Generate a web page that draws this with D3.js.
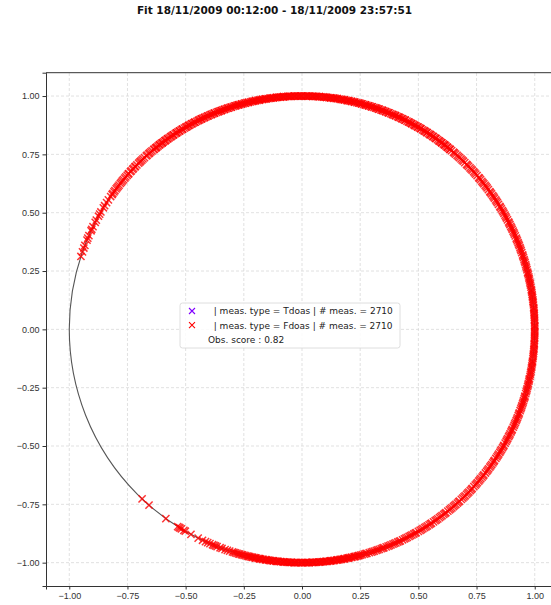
<!DOCTYPE html>
<html>
<head>
<meta charset="utf-8">
<script src="https://cdn.jsdelivr.net/npm/d3@7"></script>
<style>
	body { margin: 0; background: #fff; }
	svg { display: block; font-family: 'DejaVu Sans', sans-serif; }
	.grid line { stroke: #d9d9d9; stroke-dasharray: 3,2; stroke-width: 0.8; }
	.axis path, .axis line { stroke: #333; }
	.axis text { fill: #333; font-size: 9px; }
</style>
</head>
<body>
<script>
// data
var title = 'Fit 18/11/2009 00:12:00 - 18/11/2009 23:57:51';
var x_ticks = [-1.00, -0.75, -0.50, -0.25, 0.00, 0.25, 0.50, 0.75, 1.00];
var y_ticks = [-1.00, -0.75, -0.50, -0.25, 0.00, 0.25, 0.50, 0.75, 1.00];
var fit_radius = 1.0;
var legend_labels = [
	'  | meas. type = Tdoas | # meas. = 2710',
	'  | meas. type = Fdoas | # meas. = 2710',
	'Obs. score : 0.82'
];
var legend_colors = ['#8000ff', '#ff0000', null];

// angles (degrees) of the Fdoas measurements on the fitted circle
var meas_angles = [
	161.8, 160.6, 159.6, 158.9, 157.5, 157.0, 156.3, 155.0, 154.6, 153.9, 152.7, 152.1, 151.0, 150.4, 149.8, 148.6, 148.0, 147.1,
	146.3, 144.7, 143.9, 143.0, 142.2, 141.3, 140.5,
	139.6, 138.7, 138.1, 137.2, 136.4, 135.7, 134.6, 133.9, 133.1, 132.0, 131.2, 130.5, 129.4, 128.8, 127.7, 126.9, 126.0, 125.3,
	124.2, 123.5, 122.6, 121.7, 120.9, 119.8, 119.1, 118.2, 117.4, 116.3, 115.6, 114.7, 113.8, 112.9, 112.1, 111.0, 110.3, 109.4,
	108.5, 107.7, 106.6, 105.9, 105.0, 104.1, 103.3, 102.2, 101.5, 100.6, 99.7, 98.9, 97.8, 97.1, 96.2, 95.3, 94.5, 93.4, 92.7,
	91.8, 90.9, 90.1, 89.0, 88.3, 87.4, 86.5, 85.7, 84.6, 83.9, 83.0, 82.1, 81.3, 80.2, 79.5, 78.6, 77.7, 76.9, 75.8, 75.1, 74.2,
	73.3, 72.5, 71.4, 70.7, 69.8, 68.9, 68.1, 67.0, 66.3, 65.4, 64.5, 63.7, 62.6, 61.9, 61.0, 60.1, 59.3, 58.2, 57.5, 56.6, 55.7,
	54.9, 53.8, 53.1, 52.2, 51.3, 50.5, 49.4, 48.7, 47.8, 46.9, 46.1, 45.0, 44.3, 43.4, 42.5, 41.7, 40.6, 39.9, 39.0, 38.1, 37.3,
	36.2, 35.5, 34.6, 33.7, 32.9, 31.8, 31.1, 30.2, 29.3, 28.5, 27.4, 26.7, 25.8, 24.9, 24.1, 23.0, 22.3, 21.4, 20.5, 19.7, 18.6,
	17.9, 17.0, 16.1, 15.3, 14.2, 13.5, 12.6, 11.7, 10.9, 9.8, 9.1, 8.2, 7.3, 6.5, 5.4, 4.7, 3.8, 2.9, 2.1, 1.0, 0.3,
	-0.6, -1.5, -2.3, -3.4, -4.1, -5.0, -5.9, -6.7, -7.8, -8.5, -9.4, -10.3, -11.1, -12.2, -12.9, -13.8, -14.7, -15.5, -16.6,
	-17.3, -18.2, -19.1, -19.9, -21.0, -21.7, -22.6, -23.5, -24.3, -25.4, -26.1, -27.0, -27.9, -28.7, -29.8, -30.5, -31.4, -32.3,
	-33.1, -34.2, -34.9, -35.8, -36.7, -37.5, -38.6, -39.3, -40.2, -41.1, -41.9, -43.0, -43.7, -44.6, -45.5, -46.3, -47.4, -48.1,
	-49.0, -49.9, -50.7, -51.8, -52.5, -53.4, -54.3, -55.1, -56.2, -56.9, -57.8, -58.7, -59.5, -60.6, -61.3, -62.2, -63.1, -63.9,
	-65.0, -65.7, -66.6, -67.5, -68.3, -69.4, -70.1, -71.0, -71.9, -72.7, -73.8, -74.5, -75.4, -76.3, -77.1, -78.2, -78.9, -79.8,
	-80.7, -81.5, -82.6, -83.3, -84.2, -85.1, -85.9, -87.0, -87.7, -88.6, -89.5, -90.3, -91.4, -92.1, -93.0, -93.9, -94.7, -95.8,
	-96.5, -97.4, -98.3, -99.1, -100.2, -100.9, -101.8, -102.7, -103.6, -104.8, -105.5, -106.6, -107.4, -108.7,
	-110.1, -111.4, -112.2, -113.9, -115.3, -116.5, -118.5, -120.1, -120.5, -121.2, -121.6, -121.9, -122.3, -125.8, -131.1, -133.4
];
// second pass where the band is solid
var meas_angles_dense = [
	130.1, 129.0, 128.2, 127.3, 126.5, 125.7, 124.8, 123.9, 123.0, 122.2, 121.3, 120.4, 119.5, 118.7, 117.8, 116.9, 116.0, 115.2,
	114.3, 113.4, 112.5, 111.6, 110.7, 109.9, 109.0, 108.1, 107.2, 106.3, 105.5, 104.6, 103.7, 102.8, 101.9, 101.0, 100.2, 99.3,
	98.4, 97.5, 96.6, 95.8, 94.9, 94.0, 93.1, 92.2, 91.4, 90.5, 89.6, 88.7, 87.8, 87.0, 86.1, 85.2, 84.3, 83.4, 82.6, 81.7, 80.8,
	79.9, 79.0, 78.2, 77.3, 76.4, 75.5, 74.6, 73.8, 72.9, 72.0, 71.1, 70.2, 69.4, 68.5, 67.6, 66.7, 65.8, 65.0, 64.1, 63.2, 62.3,
	61.4, 60.6, 59.7, 58.8, 57.9, 57.0, 56.2, 55.3, 54.4, 53.5, 52.6, 51.8, 50.9, 50.0, 49.1, 48.2, 47.4, 46.5, 45.6, 44.7, 43.8,
	43.0, 42.1, 41.2, 40.3, 39.4, 38.6, 37.7, 36.8, 35.9, 35.0, 34.2, 33.3, 32.4, 31.5, 30.6, 29.8, 28.9, 28.0, 27.1, 26.2, 25.4,
	24.5, 23.6, 22.7, 21.8, 21.0, 20.1, 19.2, 18.3, 17.4, 16.6, 15.7, 14.8, 13.9, 13.0, 12.2, 11.3, 10.4, 9.5, 8.6, 7.8, 6.9, 6.0,
	5.1, 4.2, 3.4, 2.5, 1.6, 0.7, -0.2, -1.0, -1.9, -2.8, -3.7, -4.6, -5.4, -6.3, -7.2, -8.1, -9.0, -9.8, -10.7, -11.6, -12.5,
	-13.4, -14.2, -15.1, -16.0, -16.9, -17.8, -18.6, -19.5, -20.4, -21.3, -22.2, -23.0, -23.9, -24.8, -25.7, -26.6, -27.4, -28.3,
	-29.2, -30.1, -31.0, -31.8, -32.7, -33.6, -34.5, -35.4, -36.2, -37.1, -38.0, -38.9, -39.8, -40.6, -41.5, -42.4, -43.3, -44.2,
	-45.0, -45.9, -46.8, -47.7, -48.6, -49.4, -50.3, -51.2, -52.1, -53.0, -53.8, -54.7, -55.6, -56.5, -57.4, -58.2, -59.1, -60.0,
	-60.9, -61.8, -62.6, -63.5, -64.4, -65.3, -66.2, -67.0, -67.9, -68.8, -69.7, -70.6, -71.4, -72.3, -73.2, -74.1, -75.0, -75.8,
	-76.7, -77.6, -78.5, -79.4, -80.2, -81.1, -82.0, -82.9, -83.8, -84.6, -85.5, -86.4, -87.3, -88.2, -89.0, -89.9, -90.8, -91.7,
	-92.6, -93.4, -94.3, -95.2, -96.1, -97.0, -97.8, -98.7, -99.6, -100.5, -101.4, -102.2, -103.1, -104.0, -105.1
];
// third pass: top arc and lower arc, which are filled in the picture
var meas_angles_top = [
	145.3, 144.4, 143.5, 142.6, 141.8, 140.9, 140.1, 139.2, 138.3, 137.5, 136.7, 135.9, 135.2, 134.2, 133.5, 132.6, 131.7, 130.9,
	129.6, 128.6, 127.8, 126.9, 126.1, 125.2, 124.4, 123.5, 122.6, 121.8, 120.9, 120.0, 119.1, 118.3, 117.4, 116.5, 115.6, 114.8,
	113.9, 113.0, 112.1, 111.2, 110.3, 109.5, 108.6, 107.7, 106.8, 105.9, 105.1, 104.2, 103.3, 102.4, 101.5, 100.6, 99.8, 98.9,
	98.0, 97.1, 96.2, 95.4, 94.5, 93.6, 92.7, 91.8, 91.0, 90.1, 89.2, 88.3, 87.4, 86.6, 85.7, 84.8, 83.9, 83.0, 82.2, 81.3, 80.4,
	79.5, 78.6, 77.8, 76.9, 76.0, 75.1, 74.2, 73.4, 72.5, 71.6, 70.7, 69.8, 69.0, 68.1, 67.2, 66.3, 65.4, 64.6, 63.7, 62.8, 61.9,
	61.0, 60.2, 59.3, 58.4, 57.5, 56.6, 55.8, 54.9, 54.0, 53.1, 52.2, 51.4, 50.5,
	-76.0, -76.9, -77.8, -78.6, -79.5, -80.4, -81.3, -82.2, -83.0, -83.9, -84.8, -85.7, -86.6, -87.4, -88.3, -89.2, -90.1, -91.0,
	-91.8, -92.7, -93.6, -94.5, -95.4, -96.2, -97.1, -98.0, -98.9, -99.8, -100.6, -101.5, -102.4, -103.3, -104.4, -105.8, -106.2,
	-107.0, -108.1, -109.3, -110.6, -111.8, -112.6, -113.3, -114.5
];

// chart
var width = 551;
var height = 605;
var margin = { top: 72.7, right: -7, bottom: 19, left: 46 };

var svg = d3.select('body')
	.append('svg')
	.attr('width', width)
	.attr('height', height);

var x = d3.scaleLinear().domain([-1.1, 1.1]).range([margin.left, width - margin.right]);
var y = d3.scaleLinear().domain([-1.1, 1.1]).range([height - margin.bottom, margin.top]);

svg.append('text')
	.attr('x', 274.5)
	.attr('y', 14)
	.attr('text-anchor', 'middle')
	.style('font-size', '10.5px')
	.style('font-weight', 'bold')
	.style('fill', '#111')
	.text(title);

// grid
var grid = svg.append('g').attr('class', 'grid');
grid.selectAll('.gx')
	.data(x_ticks)
	.enter()
	.append('line')
	.attr('x1', function (d) { return x(d); })
	.attr('x2', function (d) { return x(d); })
	.attr('y1', y(-1.1))
	.attr('y2', y(1.1));
grid.selectAll('.gy')
	.data(y_ticks)
	.enter()
	.append('line')
	.attr('y1', function (d) { return y(d); })
	.attr('y2', function (d) { return y(d); })
	.attr('x1', x(-1.1))
	.attr('x2', x(1.1));

// fitted circle
svg.append('ellipse')
	.attr('cx', x(0))
	.attr('cy', y(0))
	.attr('rx', x(fit_radius) - x(0))
	.attr('ry', y(0) - y(fit_radius))
	.attr('fill', 'none')
	.attr('stroke', '#555')
	.attr('stroke-width', 1.1);

// measurements
var ms = 3.6;
function cross (sel, size) {
	return sel.attr('d', 'M' + (-size) + ',' + (-size) + 'L' + size + ',' + size +
		'M' + (-size) + ',' + size + 'L' + size + ',' + (-size));
}
var all_angles = meas_angles.concat(meas_angles_dense, meas_angles_top);
var marks = svg.append('g');
cross(marks.selectAll('path')
	.data(all_angles)
	.enter()
	.append('path')
	.attr('transform', function (d) {
		var a = d * Math.PI / 180;
		return 'translate(' + x(fit_radius * Math.cos(a)) + ',' + y(fit_radius * Math.sin(a)) + ')';
	})
	.attr('fill', 'none')
	.attr('stroke', '#ff0000')
	.attr('stroke-opacity', 0.8)
	.attr('stroke-width', 1.5), ms);

// axes
var x_axis = d3.axisBottom(x)
	.tickValues(x_ticks)
	.tickSize(3.5)
	.tickPadding(3)
	.tickFormat(function (d) { return d3.format('.2f')(d).replace('-', '\u2212'); });
var y_axis = d3.axisLeft(y)
	.tickValues(y_ticks)
	.tickSize(3.5)
	.tickPadding(3)
	.tickFormat(function (d) { return d3.format('.2f')(d).replace('-', '\u2212'); });

svg.append('g')
	.attr('class', 'x axis')
	.attr('transform', 'translate(0,' + y(-1.1) + ')')
	.call(x_axis);
svg.append('g')
	.attr('class', 'y axis')
	.attr('transform', 'translate(' + x(-1.1) + ',0)')
	.call(y_axis);
svg.append('line')
	.attr('x1', x(-1.1)).attr('x2', x(1.1))
	.attr('y1', y(1.1)).attr('y2', y(1.1))
	.attr('stroke', '#333');
svg.selectAll('.axis .domain').attr('stroke', '#333');

// legend
var legend = svg.append('g').attr('transform', 'translate(180,303)');
legend.append('rect')
	.attr('width', 220)
	.attr('height', 45)
	.attr('rx', 2.5)
	.attr('fill', '#fff')
	.attr('fill-opacity', 0.85)
	.attr('stroke', '#d6d6d6')
	.attr('stroke-width', 0.8);
var rows = legend.selectAll('.row')
	.data(legend_labels)
	.enter()
	.append('g')
	.attr('transform', function (d, i) { return 'translate(0,' + (8 + i * 14.2) + ')'; });
rows.filter(function (d, i) { return legend_colors[i]; })
	.append('path')
	.attr('transform', 'translate(12,0)')
	.attr('fill', 'none')
	.attr('stroke', function (d) { return legend_colors[legend_labels.indexOf(d)]; })
	.attr('stroke-width', 1.1)
	.call(cross, 3);
rows.append('text')
	.attr('x', 28)
	.attr('y', 3.3)
	.attr('xml:space', 'preserve')
	.style('white-space', 'pre')
	.style('font-size', '9px')
	.style('fill', '#222')
	.text(function (d) { return d; });
</script>
</body>
</html>
